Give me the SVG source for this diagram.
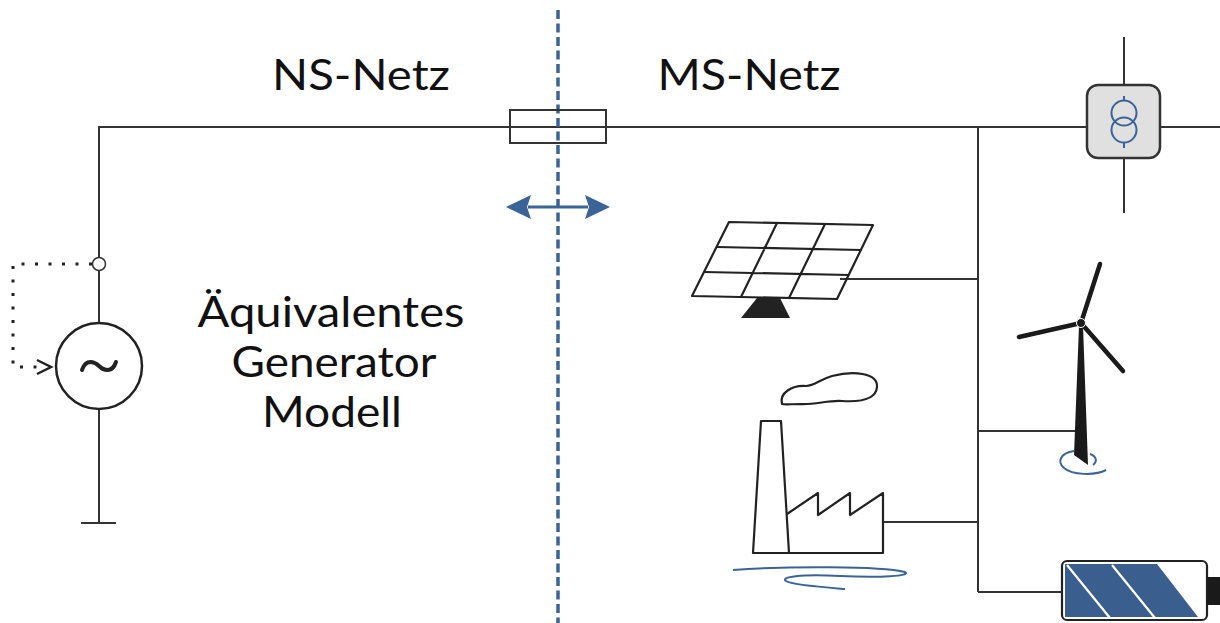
<svg xmlns="http://www.w3.org/2000/svg" width="1220" height="623" viewBox="0 0 1220 623">
  <style>
    .wire { fill: none; stroke: #333; stroke-width: 2; }
    .ink { fill: none; stroke: #222; stroke-width: 2.2; stroke-linejoin: round; }
    .blue { fill: none; stroke: #3a6497; stroke-width: 2; }
    .label { font-family: Lato, "Open Sans", sans-serif; font-size: 43px; fill: #111; text-anchor: middle; }
  </style>
  <rect width="1220" height="623" fill="#fff"/>

  <!-- connectors -->
  <g id="connectors">
    <path class="wire" d="M98,127 H1220"/>
    <path class="wire" d="M99,127 V257"/>
    <path class="wire" d="M99,271 V323"/>
    <path class="wire" d="M99,409 V523"/>
    <path class="wire" d="M81,523 H116" stroke-width="2.5"/>
    <path class="wire" d="M978,127 V592"/>
    <path class="wire" d="M840,279 H978"/>
    <path class="wire" d="M978,431 H1078"/>
    <path class="wire" d="M884,522 H978"/>
    <path class="wire" d="M978,592 H1062"/>
    <path class="wire" d="M1124,37 V213"/>
    <!-- feedback loop to the generator -->
    <path d="M92,264 H13 V367 H44" fill="none" stroke="#222" stroke-width="3" stroke-dasharray="3,10.5"/>
    <path d="M37,360 L51,367 L37,374" fill="none" stroke="#222" stroke-width="2.5"/>
  </g>

  <!-- boundary between the two networks -->
  <g id="boundary">
    <path d="M558,10 V623" stroke="#3a6497" stroke-width="3.5" stroke-dasharray="9,4.5"/>
    <path d="M528,207 H588" stroke="#3a6497" stroke-width="3"/>
    <path d="M506,207 L531,195 L527,207 L531,219 Z" fill="#3a6497"/>
    <path d="M610,207 L585,195 L589,207 L585,219 Z" fill="#3a6497"/>
  </g>

  <g id="fuse">
    <rect x="510" y="110" width="96" height="33" fill="none" stroke="#333" stroke-width="2"/>
  </g>

  <g id="node-point">
    <circle cx="99" cy="264" r="6.5" fill="#fff" stroke="#333" stroke-width="1.5"/>
  </g>

  <g id="generator">
    <circle cx="99" cy="366" r="43" fill="#fff" stroke="#222" stroke-width="2.5"/>
    <path d="M82,370 C86,358 95,362 99,366 C103,370 112,374 116,362" fill="none" stroke="#222" stroke-width="4" stroke-linecap="round"/>
  </g>

  <g id="labels">
    <text class="label" x="361" y="90" textLength="178" lengthAdjust="spacingAndGlyphs">NS-Netz</text>
    <text class="label" x="749" y="90" textLength="183" lengthAdjust="spacingAndGlyphs">MS-Netz</text>
    <text class="label" x="331" y="327" textLength="267" lengthAdjust="spacingAndGlyphs">Äquivalentes</text>
    <text class="label" x="334" y="377" textLength="205" lengthAdjust="spacingAndGlyphs">Generator</text>
    <text class="label" x="332" y="427" textLength="140" lengthAdjust="spacingAndGlyphs">Modell</text>
  </g>

  <g id="transformer">
    <rect x="1087" y="85" width="73" height="73" rx="11" fill="#e0e0e0" stroke="#333" stroke-width="2.5"/>
    <circle cx="1124" cy="113" r="12.5" class="blue" stroke-width="2.4"/>
    <circle cx="1124" cy="130" r="12.5" class="blue" stroke-width="2.4"/>
    <path class="blue" d="M1124,96 V100.5 M1124,142.5 V148"/>
  </g>

  <g id="solar">
    <path class="ink" d="M729,222 L873,225 L837,299 L692,296 Z"/>
    <path class="ink" d="M717,247 L861,250 M704,272 L849,275 M777,223 L741,297 M825,224 L789,298"/>
    <path d="M757,298 L780,298 L790,318 L741,318 Z" fill="#222"/>
  </g>

  <g id="wind">
    <path d="M1079,326 L1083,326 L1088,465 L1074,455 Z" fill="#1a1a1a"/>
    <path d="M1081,323 L1100,264" stroke="#1a1a1a" stroke-width="4.5" stroke-linecap="round"/>
    <path d="M1081,323 L1019,337" stroke="#1a1a1a" stroke-width="4.5" stroke-linecap="round"/>
    <path d="M1081,323 L1123,371" stroke="#1a1a1a" stroke-width="4.5" stroke-linecap="round"/>
    <circle cx="1081" cy="323" r="4.5" fill="#1a1a1a" stroke="#fff" stroke-width="1"/>
    <path class="blue" d="M1074,451 C1060,453 1057,462 1064,468 C1072,475 1095,476 1106,470 M1090,454 C1096,456 1098,461 1093,465"/>
  </g>

  <g id="factory">
    <path class="ink" d="M761,421 L781,421 L789,553 L753,553 Z"/>
    <path class="ink" d="M789,553 H883 V493 L850,515 V493 L818,515 V493 L787,514"/>
    <path class="ink" d="M782,404 C779,393 792,385 806,386 C815,386 818,380 832,376 C852,371 878,372 877,387 C876,400 858,402 842,401 C828,400 815,405 800,404 C792,404 785,405 782,404 Z"/>
    <path class="blue" d="M733,570 C790,566 880,566 905,572 C912,576 880,578 840,576 C800,574 780,577 786,581 C792,585 820,587 845,589"/>
  </g>

  <g id="battery">
    <rect x="1062" y="561" width="145" height="59" rx="5" fill="#fff" stroke="#222" stroke-width="2.2"/>
    <rect x="1207" y="577" width="13" height="28" fill="#1a1a1a"/>
    <path d="M1065,564 L1157,564 L1198,617 L1065,617 Z" fill="#3a5f8f"/>
    <path d="M1067,565 L1110,618 M1112,565 L1155,618" stroke="#fff" stroke-width="2.2"/>
  </g>
</svg>
